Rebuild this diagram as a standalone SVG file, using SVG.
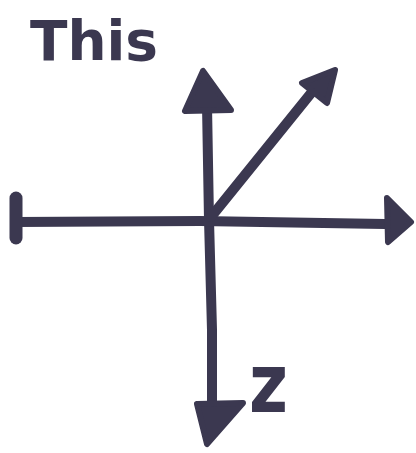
<svg xmlns="http://www.w3.org/2000/svg" width="416" height="453" viewBox="0 0 416 453">
<style>
.ax{fill:none;stroke:#3b3850;stroke-width:10;stroke-linecap:round;stroke-linejoin:round}
.hd{fill:#3b3850;stroke:#3b3850;stroke-width:6;stroke-linejoin:round}
.lb{font-family:"DejaVu Sans",sans-serif;font-weight:bold;fill:#3b3850}
</style>
<rect width="416" height="453" fill="#ffffff"/>
<g id="title"><text class="lb" x="30" y="60" font-size="56" textLength="128" lengthAdjust="spacingAndGlyphs">This</text></g>
<g id="connectors">
<path class="ax" d="M207,105 L209,220 L212,330 L212,405"/>
<path class="ax" d="M16,222 L200,221 L385,224"/>
<path class="ax" d="M211,217 L312,92"/>
<path class="ax" d="M16,198 L16,238" style="stroke-width:13"/>
<path class="hd" d="M203,71 L185,111 L231,110 Z"/>
<path class="hd" d="M387,198 L411,222 L388,242 Z"/>
<path class="hd" d="M335,70 L302,83 L327,103 Z"/>
<path class="hd" d="M197,404 L243,403 L207,444 Z"/>
</g>
<g id="label-z"><text class="lb" x="249" y="412" font-size="82" textLength="39" lengthAdjust="spacingAndGlyphs">z</text></g>
</svg>
